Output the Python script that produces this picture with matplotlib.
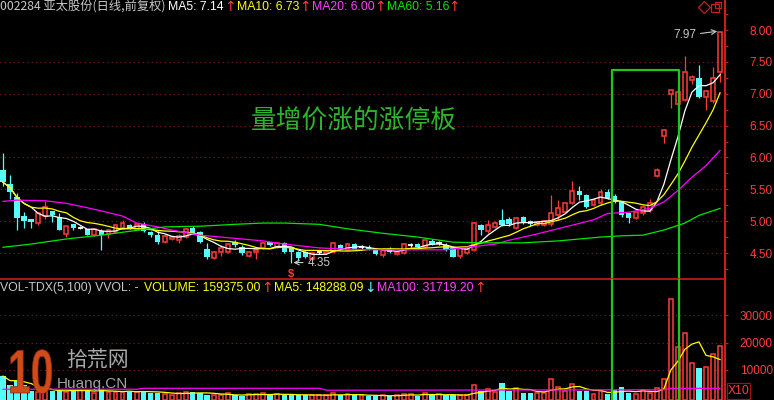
import matplotlib
matplotlib.use("Agg")
import matplotlib.pyplot as plt
from matplotlib.lines import Line2D
from matplotlib.patches import Rectangle, PathPatch
from matplotlib.textpath import TextPath
from matplotlib.font_manager import FontProperties
from matplotlib.transforms import Affine2D
from matplotlib.ticker import MultipleLocator
import numpy as np
import pandas as pd

# daily bars, oldest first
opens = [5.80, 5.59, 5.38, 5.08, 5.03, 4.97, 5.08, 5.16, 5.06, 4.80,
         4.95, 4.90, 4.87, 4.78, 4.85, 4.80, 4.83, 4.90, 4.94, 4.88,
         4.95, 4.83, 4.78, 4.67, 4.72, 4.70, 4.75, 4.90, 4.83, 4.56,
         4.42, 4.52, 4.52, 4.67, 4.59, 4.45, 4.52, 4.58, 4.67, 4.59,
         4.66, 4.58, 4.52, 4.52, 4.40, 4.51, 4.50, 4.52, 4.62, 4.55,
         4.64, 4.59, 4.59, 4.55, 4.47, 4.57, 4.48, 4.50, 4.63, 4.64,
         4.59, 4.69, 4.66, 4.63, 4.58, 4.45, 4.50, 4.55, 4.94, 4.84,
         4.91, 5.02, 5.03, 4.89, 5.06, 5.00, 4.94, 4.94, 4.95, 5.09,
         5.14, 5.28, 5.48, 5.41, 5.25, 5.28, 5.46, 5.40, 5.30, 5.12,
         5.05, 5.12, 5.17, 5.71, 6.33, 7.00, 6.84, 6.90, 7.22, 7.25,
         6.95, 6.88, 7.34]
closes = [5.61, 5.45, 5.05, 5.00, 4.99, 5.12, 5.22, 5.09, 4.86, 4.92,
          4.90, 4.90, 4.78, 4.87, 4.78, 4.86, 4.94, 4.97, 4.89, 4.95,
          4.84, 4.78, 4.67, 4.77, 4.75, 4.77, 4.88, 4.82, 4.67, 4.44,
          4.52, 4.58, 4.64, 4.62, 4.50, 4.52, 4.55, 4.66, 4.62, 4.66,
          4.52, 4.52, 4.42, 4.44, 4.50, 4.51, 4.53, 4.66, 4.56, 4.64,
          4.57, 4.59, 4.56, 4.48, 4.55, 4.52, 4.52, 4.64, 4.63, 4.59,
          4.70, 4.63, 4.66, 4.55, 4.44, 4.58, 4.56, 4.97, 4.86, 4.94,
          4.97, 4.94, 4.95, 5.05, 4.98, 4.96, 4.99, 5.00, 5.12, 5.20,
          5.28, 5.48, 5.41, 5.22, 5.33, 5.45, 5.36, 5.30, 5.09, 5.05,
          5.14, 5.22, 5.28, 5.81, 6.43, 7.06, 7.02, 7.34, 7.27, 6.95,
          7.05, 7.25, 7.97]
highs = [6.07, 5.72, 5.44, 5.14, 5.03, 5.12, 5.31, 5.16, 5.12, 4.92,
         4.95, 4.93, 4.88, 4.88, 4.87, 4.87, 4.95, 5.02, 4.95, 4.96,
         4.98, 4.84, 4.85, 4.78, 4.77, 4.80, 4.89, 4.92, 4.84, 4.66,
         4.53, 4.62, 4.66, 4.70, 4.62, 4.53, 4.56, 4.67, 4.68, 4.67,
         4.68, 4.60, 4.53, 4.53, 4.51, 4.54, 4.55, 4.67, 4.64, 4.65,
         4.66, 4.62, 4.62, 4.56, 4.56, 4.60, 4.53, 4.66, 4.66, 4.66,
         4.72, 4.72, 4.69, 4.65, 4.60, 4.59, 4.58, 4.98, 4.95, 5.02,
         5.00, 5.19, 5.06, 5.07, 5.08, 5.02, 5.00, 5.02, 5.41, 5.33,
         5.30, 5.63, 5.55, 5.42, 5.36, 5.50, 5.50, 5.42, 5.32, 5.13,
         5.16, 5.24, 5.34, 5.83, 6.45, 7.08, 7.10, 7.59, 7.30, 7.45,
         7.06, 7.42, 7.97]
lows = [5.55, 5.34, 4.86, 4.90, 4.90, 4.94, 5.03, 4.98, 4.86, 4.75,
        4.86, 4.87, 4.78, 4.77, 4.55, 4.74, 4.82, 4.88, 4.88, 4.87,
        4.83, 4.75, 4.64, 4.65, 4.70, 4.65, 4.74, 4.80, 4.65, 4.41,
        4.40, 4.45, 4.50, 4.60, 4.47, 4.43, 4.41, 4.57, 4.61, 4.58,
        4.50, 4.35, 4.38, 4.42, 4.38, 4.48, 4.49, 4.51, 4.55, 4.54,
        4.55, 4.57, 4.55, 4.47, 4.44, 4.50, 4.47, 4.48, 4.60, 4.57,
        4.58, 4.62, 4.63, 4.53, 4.43, 4.42, 4.49, 4.53, 4.78, 4.81,
        4.89, 4.93, 4.93, 4.88, 4.96, 4.93, 4.92, 4.93, 4.93, 5.02,
        5.12, 5.27, 5.33, 5.20, 5.23, 5.25, 5.34, 5.28, 5.06, 4.97,
        5.03, 5.10, 5.14, 5.69, 6.23, 6.77, 6.80, 6.88, 7.15, 6.94,
        6.75, 6.85, 7.19]
volumes = [7800, 4500, 6000, 4500, 2500, 2000, 3000, 2500, 2500, 2100,
           2700, 2700, 2700, 1500, 3000, 2100, 2100, 2100, 2100, 2100,
           2500, 1750, 1750, 1270, 900, 1500, 2100, 2100, 1750, 900,
           800, 800, 1500, 800, 550, 1270, 1270, 1500, 800, 1270,
           800, 1270, 800, 800, 900, 800, 800, 1500, 800, 1270,
           800, 800, 550, 550, 800, 550, 800, 1270, 1270, 550,
           1500, 800, 1270, 800, 800, 800, 800, 4400, 2500, 3200,
           2000, 5200, 2500, 3300, 1750, 1750, 1500, 1750, 6600, 3700,
           2250, 5000, 2500, 2200, 1200, 2200, 1150, 2700, 3800, 1750,
           1150, 2700, 1750, 3300, 6600, 35700, 18500, 23600, 12700, 10600,
           11200, 15800, 18700]

# long averages (their history starts before the window)
ma20_idx = [0, 2, 6, 9, 12, 14, 17, 19, 22, 24, 28, 31, 34, 37, 40, 45, 49,
            54, 59, 63, 66, 70, 72, 76, 80, 84, 86, 89, 91, 92, 94, 96, 98, 100, 102]
ma20_val = [5.31, 5.33, 5.32, 5.28, 5.21, 5.16, 5.08, 4.97, 4.91, 4.86, 4.78, 4.75,
            4.72, 4.69, 4.64, 4.58, 4.56, 4.55, 4.55, 4.55, 4.59, 4.64, 4.70, 4.80,
            4.91, 5.02, 5.12, 5.14, 5.18, 5.20, 5.30, 5.48, 5.69, 5.87, 6.11]
ma60_idx = [0, 4, 9, 14, 18, 23, 28, 33, 37, 40, 45, 49, 54, 59, 64, 68, 74,
            79, 82, 85, 88, 91, 94, 97, 99, 102]
ma60_val = [4.59, 4.64, 4.72, 4.78, 4.84, 4.91, 4.92, 4.95, 4.97, 4.97, 4.95, 4.88,
            4.81, 4.75, 4.67, 4.66, 4.66, 4.69, 4.72, 4.75, 4.77, 4.78, 4.86, 4.97,
            5.09, 5.20]
vma100_idx = [0, 19, 20, 45, 46, 94, 95, 102]
vma100_val = [3000, 3000, 3350, 3350, 2650, 2800, 3300, 3350]

price_ticks = [4.5, 5.0, 5.5, 6.0, 6.5, 7.0, 7.5, 8.0]
vol_ticks = [10000, 20000, 30000]

RED = '#ff3c3c'
AXRED = '#c81e1e'
GRID = '#8c1a1a'
CYAN = '#54fcfc'
GRAY = '#c8c8c8'
plt.rcParams['font.family'] = ['Liberation Sans', 'DejaVu Sans']
CJK = ['Noto Sans CJK SC', 'DejaVu Sans']

W, H = 774, 400
fig = plt.figure(figsize=(7.74, 4.0), dpi=100, facecolor='black')


def fx(px):
    return px / W


def fy(py):
    return 1 - py / H


ax = fig.add_axes([0, fy(279), fx(725), 279 / H], facecolor='black')
axv = fig.add_axes([0, 0, fx(725), fy(279)], facecolor='black')

step = 7.03
xlo = -3 / step
xhi = xlo + 725 / step
for a in (ax, axv):
    a.set_xlim(xlo, xhi)
    a.set_xticks([])
    for s in ('left', 'bottom', 'top'):
        a.spines[s].set_visible(False)
    a.spines['right'].set_color(AXRED)
    a.spines['right'].set_linewidth(1.5)
axv.spines['top'].set_visible(True)
axv.spines['top'].set_color(AXRED)
axv.spines['top'].set_linewidth(1.2)

ppu = 63.71
ax.set_ylim(4.5 - 26 / ppu, 4.5 + 253 / ppu)
vlo = -2.5 / 27.5 * 10000
axv.set_ylim(vlo, (397.5 - 279) / 27.5 * 10000)

o = np.array(opens)
c = np.array(closes)
h = np.array(highs)
l = np.array(lows)
v = np.array(volumes, dtype=float)
x = np.arange(len(c))
up = c > o
dn = c < o
fl = c == o

# grid
ax.hlines(price_ticks[:-1], xlo, xhi, colors=GRID, linestyles=(0, (1, 3)), lw=0.8, zorder=0)
axv.hlines(vol_ticks, xlo, xhi, colors=GRID, linestyles=(0, (1, 3)), lw=0.8, zorder=0)

# candles
bw_up, bw_dn = 0.55, 0.76
ax.vlines(x[up], c[up], h[up], color=RED, lw=0.9, zorder=2)
ax.vlines(x[up], l[up], o[up], color=RED, lw=0.9, zorder=2)
ax.bar(x[up], c[up] - o[up], bottom=o[up], width=bw_up, facecolor='black',
       edgecolor=RED, linewidth=1.1, zorder=2)
ax.vlines(x[dn], l[dn], h[dn], color=CYAN, lw=0.9, zorder=2)
ax.bar(x[dn], o[dn] - c[dn], bottom=c[dn], width=bw_dn, color=CYAN, zorder=2)
ax.vlines(x[fl], l[fl], h[fl], color='white', lw=0.9, zorder=2)
ax.hlines(o[fl], x[fl] - bw_dn / 2, x[fl] + bw_dn / 2, color='white', lw=1.3, zorder=2)

# moving averages
cs = pd.Series(c)
ax.plot(x, cs.rolling(5, min_periods=1).mean(), color='white', lw=0.9, zorder=3)
ax.plot(x, cs.rolling(10, min_periods=1).mean(), color='#ffff00', lw=0.9, zorder=3)
ax.plot(ma20_idx, ma20_val, color='#ff00ff', lw=0.9, zorder=3)
ax.plot(ma60_idx, ma60_val, color='#00e600', lw=0.9, zorder=3)

# volume
vup = c >= o
axv.bar(x[vup], v[vup] - vlo, bottom=vlo, width=bw_up, facecolor='black',
        edgecolor=RED, linewidth=1.1, zorder=2)
axv.bar(x[~vup], v[~vup] - vlo, bottom=vlo, width=bw_dn, color=CYAN, zorder=2)
axv.plot(x, pd.Series(v).rolling(5, min_periods=1).mean(), color='#ffff00', lw=0.9, zorder=3)
axv.plot(vma100_idx, vma100_val, color='#ff00ff', lw=0.9, zorder=3)

# right scales
ax.yaxis.tick_right()
ax.set_yticks(price_ticks)
ax.set_yticklabels(['%.2f' % t for t in price_ticks])
ax.yaxis.set_minor_locator(MultipleLocator(0.25))
ax.tick_params(axis='y', which='both', colors=AXRED, labelcolor=RED, length=2.5,
               width=0.8, pad=15, labelsize=8.5)
axv.yaxis.tick_right()
axv.set_yticks(vol_ticks)
axv.set_yticklabels([str(t) for t in vol_ticks])
axv.tick_params(axis='y', colors=AXRED, labelcolor=RED, length=2.5, width=0.8,
                pad=8, labelsize=8.5)

# marks on the chart
ax.annotate('7.97', xy=(101.6, 7.98), xytext=(-15, -3), textcoords='offset points',
            ha='right', va='center', color=GRAY, fontsize=8.5,
            arrowprops=dict(arrowstyle='->', color=GRAY, lw=0.8, shrinkA=1, shrinkB=0))
ax.annotate('4.35', xy=(41.3, 4.35), xytext=(10, 0), textcoords='offset points',
            ha='left', va='center', color=GRAY, fontsize=8.5,
            arrowprops=dict(arrowstyle='->', color=GRAY, lw=0.8, shrinkA=1, shrinkB=0))
ax.annotate('$', xy=(41, 4.35), xytext=(0, -8), textcoords='offset points',
            ha='center', va='center', color=RED, fontsize=8, fontweight='bold')

# highlight box across both panes
box_left, box_right, box_top = 86.63, 96.16, 7.372
ymin = ax.get_ylim()[0]
ax.plot([box_left, box_left, box_right, box_right], [ymin, box_top, box_top, ymin],
        color='#19c819', lw=1.6, clip_on=False, zorder=5)
axv.axvline(box_left, color='#19c819', lw=1.6, zorder=5)
axv.axvline(box_right, color='#19c819', lw=1.6, zorder=5)

fig.text(fx(354), fy(121), '量增价涨的涨停板', color='#2cb52c', fontsize=18.5,
         family=CJK, ha='center', va='center')

# header of price pane
hy = fy(7)
fig.text(0, hy, '002284 亚太股份(日线,前复权)', color=GRAY, fontsize=8.8, family=CJK, va='center')
header = [(168, 'MA5: 7.14', 'white'), (224, '↑', RED),
          (237, 'MA10: 6.73', '#ffff00'), (299, '↑', RED),
          (312, 'MA20: 6.00', '#ff40ff'), (374, '↑', RED),
          (387, 'MA60: 5.16', '#00e600'), (448, '↑', RED)]
for px, t, col in header:
    if t == '↑':
        fig.text(fx(px), hy, t, color=col, fontsize=10, family='DejaVu Sans', va='center')
    else:
        fig.text(fx(px), hy, t, color=col, fontsize=8.8, va='center')

# header of volume pane
vy = fy(288)
vheader = [(0, 'VOL-TDX(5,100) VVOL: -', GRAY), (144, 'VOLUME: 159375.00', '#ffff00'),
           (261, '↑', RED), (274, 'MA5: 148288.09', '#ffff00'), (364, '↓', CYAN),
           (377, 'MA100: 31719.20', '#ff40ff'), (474, '↑', RED)]
for px, t, col in vheader:
    if t in ('↑', '↓'):
        fig.text(fx(px), vy, t, color=col, fontsize=10, family='DejaVu Sans', va='center')
    else:
        fig.text(fx(px), vy, t, color=col, fontsize=8.8, va='center')

# corner icons and scale box
fig.add_artist(Line2D([fx(704)], [fy(7)], marker='D', markersize=6, markerfacecolor='none',
                      markeredgecolor=AXRED, markeredgewidth=0.9, transform=fig.transFigure))
fig.add_artist(Line2D([fx(715)], [fy(8)], marker='s', markersize=6, markerfacecolor='none',
                      markeredgecolor=AXRED, markeredgewidth=0.9, transform=fig.transFigure))
fig.add_artist(Line2D([fx(718)], [fy(5)], marker='s', markersize=5, markerfacecolor='none',
                      markeredgecolor=AXRED, markeredgewidth=0.9, transform=fig.transFigure))
fig.add_artist(Rectangle((fx(727), fy(399)), fx(23), 16 / H, facecolor='none',
                         edgecolor='#a01010', lw=0.9, transform=fig.transFigure))
fig.text(fx(738.5), fy(391), 'X10', color=RED, fontsize=8.8, ha='center', va='center')

# site watermark, the "10" squeezed to the logo's narrow shape
logo = TextPath((0, 0), '10', size=62, prop=FontProperties(family='Liberation Sans', weight='bold'))
fig.add_artist(PathPatch(logo, facecolor='#d04a1a', edgecolor='#8a2a08', lw=0.5,
                         transform=Affine2D().scale(0.66, 1.0).translate(8, 7), zorder=10))
fig.text(fx(66), fy(360), '拾荒网', color='#a8a8a8', fontsize=15, family=CJK,
         va='center', zorder=10)
fig.text(fx(57), fy(384), 'Huang.CN', color='#a0a0a0', fontsize=11, va='center', zorder=10)

fig.savefig('out.png', dpi=100, facecolor='black')
